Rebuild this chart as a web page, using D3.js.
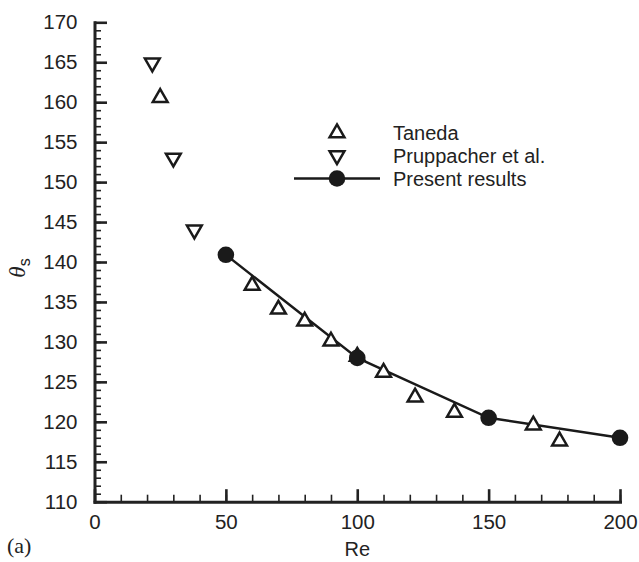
<!DOCTYPE html>
<html>
<head>
<meta charset="utf-8">
<script src="https://cdn.jsdelivr.net/npm/d3@7"></script>
<style>
  body { margin: 0; background: #fff; }
  svg { display: block; }
  .tick text { font-family: "Liberation Sans", Arial, sans-serif; font-size: 20.5px; fill: #222; }
</style>
</head>
<body>
<svg id="chart" width="639" height="562"></svg>
<script>
// Taneda (up triangles)
const tanedaRe = [25, 60, 70, 80, 90, 100, 110, 122, 137, 167, 177]
const tanedaTheta = [160.7, 137.2, 134.2, 132.7, 130.2, 128.3, 126.3, 123.2, 121.3, 119.7, 117.7]
// Pruppacher et al. (down triangles)
const prupRe = [22, 30, 38]
const prupTheta = [164.8, 152.9, 143.9]
// Present results (filled circles + line)
const presentRe = [50, 100, 150, 200]
const presentTheta = [140.9, 128.0, 120.5, 118.0]

const xMajor = [0, 50, 100, 150, 200]
const yMajor = [110, 115, 120, 125, 130, 135, 140, 145, 150, 155, 160, 165, 170]

const svg = d3.select('#chart')
const x = d3.scaleLinear().domain([0, 200]).range([94.5, 620])
const y = d3.scaleLinear().domain([110, 170]).range([501.7, 22.3])

// minor ticks first, then major on top
svg.append('g').attr('transform', `translate(${x(0)},0)`)
  .call(d3.axisLeft(y).tickValues(d3.range(110, 171, 1)).tickSize(-6.5).tickSizeOuter(0).tickFormat(''))
  .call(g => g.select('.domain').remove())
  .call(g => g.selectAll('line').attr('stroke', '#222').attr('stroke-width', 1.6))

svg.append('g').attr('transform', `translate(0,${y(110)})`)
  .call(d3.axisBottom(x).tickValues(d3.range(0, 201, 10)).tickSize(-7).tickSizeOuter(0).tickFormat(''))
  .call(g => g.select('.domain').remove())
  .call(g => g.selectAll('line').attr('stroke', '#222').attr('stroke-width', 1.6))

svg.append('g').attr('transform', `translate(${x(0)},0)`)
  .call(d3.axisLeft(y).tickValues(yMajor).tickSize(-12.5).tickSizeOuter(0).tickPadding(17))
  .call(g => g.select('.domain').attr('stroke', '#222').attr('stroke-width', 3))
  .call(g => g.selectAll('line').attr('stroke', '#222').attr('stroke-width', 2.6))

svg.append('g').attr('transform', `translate(0,${y(110)})`)
  .call(d3.axisBottom(x).tickValues(xMajor).tickSize(-12.5).tickSizeOuter(0).tickPadding(13))
  .call(g => g.select('.domain').attr('stroke', '#222').attr('stroke-width', 3))
  .call(g => g.selectAll('line').attr('stroke', '#222').attr('stroke-width', 2.6))

svg.selectAll('.domain').attr('stroke-linecap', 'square')

// axis titles
svg.append('text').attr('x', x(100)).attr('y', 556).attr('text-anchor', 'middle')
  .style('font-family', '"Liberation Sans", Arial, sans-serif').style('font-size', '20px').attr('fill', '#222').text('Re')

const yl = svg.append('text').attr('transform', 'translate(25,268) rotate(-90)').attr('text-anchor', 'middle')
  .attr('fill', '#222')
yl.append('tspan').style('font-family', '"Liberation Serif", serif').style('font-style', 'italic').style('font-size', '23px').text('θ')
yl.append('tspan').attr('dy', 5).style('font-family', '"Liberation Sans", sans-serif').style('font-size', '16px').text('s')

svg.append('text').attr('x', 7).attr('y', 553)
  .style('font-family', '"Liberation Serif", serif').style('font-size', '22px').attr('fill', '#222').text('(a)')

// markers
const triUp = d3.symbol().type(d3.symbolTriangle).size(95)
const stroke = '#1a1a1a'

const presentPts = presentRe.map((r, i) => [r, presentTheta[i]])
svg.append('path').datum(presentPts)
  .attr('d', d3.line().x(d => x(d[0])).y(d => y(d[1])))
  .attr('fill', 'none').attr('stroke', stroke).attr('stroke-width', 2.4)

svg.selectAll('.taneda').data(tanedaRe.map((r, i) => [r, tanedaTheta[i]])).enter()
  .append('path').attr('class', 'taneda')
  .attr('d', triUp)
  .attr('transform', d => `translate(${x(d[0])},${y(d[1]) + 1})`)
  .attr('fill', 'white').attr('stroke', stroke).attr('stroke-width', 2.5)

svg.selectAll('.prup').data(prupRe.map((r, i) => [r, prupTheta[i]])).enter()
  .append('path').attr('class', 'prup')
  .attr('d', triUp)
  .attr('transform', d => `translate(${x(d[0])},${y(d[1]) - 1}) rotate(180)`)
  .attr('fill', 'white').attr('stroke', stroke).attr('stroke-width', 2.5)

svg.selectAll('.present').data(presentPts).enter()
  .append('circle').attr('class', 'present')
  .attr('cx', d => x(d[0])).attr('cy', d => y(d[1])).attr('r', 8.3)
  .attr('fill', stroke)

// legend
const lg = svg.append('g')
const lx = 337, tx = 393
lg.append('path').attr('d', triUp).attr('transform', `translate(${lx},133)`)
  .attr('fill', 'white').attr('stroke', stroke).attr('stroke-width', 2.5)
lg.append('path').attr('d', triUp).attr('transform', `translate(${lx},155.5) rotate(180)`)
  .attr('fill', 'white').attr('stroke', stroke).attr('stroke-width', 2.5)
lg.append('line').attr('x1', 294).attr('x2', 380).attr('y1', 178.5).attr('y2', 178.5)
  .attr('stroke', stroke).attr('stroke-width', 2.4)
lg.append('circle').attr('cx', lx).attr('cy', 178.5).attr('r', 8.3).attr('fill', stroke)
const labels = ['Taneda', 'Pruppacher et al.', 'Present results']
lg.selectAll('.lt').data(labels).enter().append('text')
  .attr('x', tx).attr('y', (d, i) => 140 + i * 23)
  .style('font-family', '"Liberation Sans", Arial, sans-serif').style('font-size', '20px').attr('fill', '#222')
  .text(d => d)
</script>
</body>
</html>
